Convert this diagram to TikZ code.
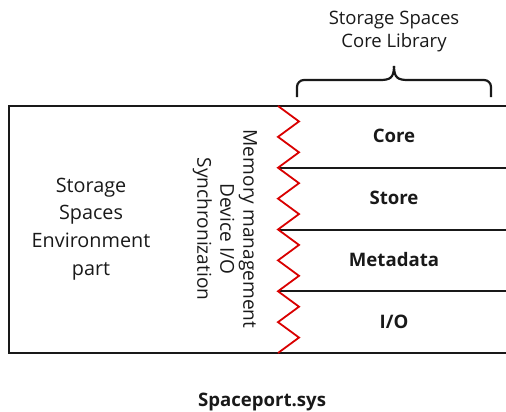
\documentclass[tikz,border=0pt]{standalone}
\usepackage{fontspec}
\setmainfont{Open Sans}
\begin{document}
\begin{tikzpicture}[x=1pt,y=-1pt,
  frame/.style={line width=2.4pt,black!90},
  divider/.style={line width=2pt,black!90},
  zig/.style={line width=1.8pt,red!85!black,line join=miter},
  lbl/.style={font=\fontsize{18.5}{23}\selectfont,text=black!90,align=center,inner sep=0pt},
  blbl/.style={font=\fontsize{18.6}{22}\selectfont\bfseries,text=black!90,align=center,inner sep=0pt}]
\useasboundingbox (0,0) rectangle (506,412);
% outer frame (open on the right)
\coordinate (tr) at (506,106);
\coordinate (tl) at (9,106);
\coordinate (bl) at (9,353);
\coordinate (br) at (506,353);
\draw[frame] (tr) -- (tl) -- (bl) -- (br);
% dividers
\foreach \y [count=\i] in {167.75,229.5,291.25}{
  \coordinate (dl\i) at (278,\y);
  \coordinate (dr\i) at (506,\y);
  \draw[divider] (dl\i) -- (dr\i);
}
% zigzag
\draw[zig] (278,106)
  \foreach \k in {1,...,16}{ -- ({mod(\k,2)==1 ? 299 : 278},{106+\k*15.4375}) };
% brace
\coordinate (bL) at (297,97);
\coordinate (bR) at (491,97);
\coordinate (bT) at (394,66);
\draw[line width=2.2pt,black!90,rounded corners=7pt] (bL) -- (297,80) -- (380,80);
\draw[line width=2.2pt,black!90] (380,80) .. controls (390,80) and (394,78) .. (bT);
\draw[line width=2.2pt,black!90,rounded corners=7pt] (bR) -- (491,80) -- (408,80);
\draw[line width=2.2pt,black!90] (408,80) .. controls (398,80) and (394,78) .. (bT);
% texts
\node[lbl] (lib) at (394,32) {Storage Spaces\\Core Library};
\node[lbl,font=\fontsize{19.8}{27.7}\selectfont] (env) at (91,229) {Storage\\Spaces\\Environment\\part};
\node[lbl,rotate=-90,font=\fontsize{19.1}{23}\selectfont] (svc) at (225,229) {Memory management\\Device I/O\\Synchronization};
\node[blbl] (core) at (394,136) {Core};
\node[blbl] (store) at (394,198) {Store};
\node[blbl] (meta) at (394,260) {Metadata};
\node[blbl] (io) at (394,322) {I/O};
\node[blbl] (sys) at (262,402) {Spaceport.sys};
\end{tikzpicture}
\end{document}
